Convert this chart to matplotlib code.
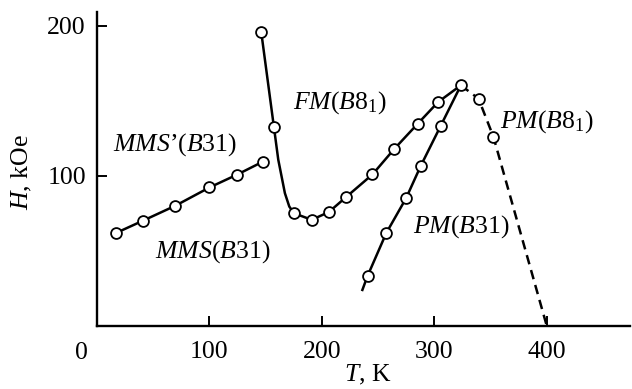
import matplotlib
matplotlib.use("Agg")
import matplotlib.pyplot as plt

plt.rcParams['font.family'] = ['Liberation Serif', 'DejaVu Serif']
plt.rcParams['mathtext.fontset'] = 'custom'
plt.rcParams['mathtext.rm'] = 'Liberation Serif'
plt.rcParams['mathtext.it'] = 'Liberation Serif:italic'
plt.rcParams['mathtext.bf'] = 'Liberation Serif:bold'

# MMS / MMS' (B31) branch
mms_T = [16.6, 40.6, 69.8, 100.0, 124.7, 147.3]
mms_H = [61.8, 70.0, 80.1, 92.2, 100.8, 109.3]

# FM(B8_1) markers
fm_T = [146.0, 157.3, 175.3, 190.9, 206.1, 221.8, 245.0, 264.3, 285.3, 303.4, 323.6]
fm_H = [196.0, 132.6, 75.0, 70.7, 75.8, 86.0, 100.9, 117.8, 134.7, 149.1, 160.2]
# FM curve (bend between 157 K and 175 K)
fm_line_T = [146.0, 157.3, 161.2, 167.1, 171.0, 175.3, 190.9, 206.1, 221.8, 245.0, 264.3, 285.3, 303.4, 323.6]
fm_line_H = [196.0, 132.6, 110.7, 88.4, 79.5, 75.0, 70.7, 75.8, 86.0, 100.9, 117.8, 134.7, 149.1, 160.2]

# PM(B31)
pm31_T = [240.6, 257.2, 274.9, 287.8, 305.5]
pm31_H = [33.3, 61.8, 85.1, 106.4, 133.0]
pm31_line_T = [236.0, 240.6, 257.2, 274.9, 287.8, 305.5, 323.6]
pm31_line_H = [24.0, 33.3, 61.8, 85.1, 106.4, 133.0, 160.2]

# PM(B8_1), dashed
pm81_T = [339.3, 352.6]
pm81_H = [151.3, 125.8]
pm81_line_T = [323.6, 339.3, 352.6, 400.0]
pm81_line_H = [160.2, 151.3, 125.8, 0.0]

fig = plt.figure(figsize=(6.32, 3.89), dpi=100)
ax = fig.add_axes([97/632, 63/389, 533/632, 314/389])

lw = 1.8
mk = dict(marker='o', ms=7.8, mfc='white', mec='black', mew=1.3, ls='none', zorder=3)

ax.plot(mms_T, mms_H, color='black', lw=lw)
ax.plot(fm_line_T, fm_line_H, color='black', lw=lw)
ax.plot(pm31_line_T, pm31_line_H, color='black', lw=lw)
ax.plot(pm81_line_T, pm81_line_H, color='black', lw=lw, dashes=(3.8, 2.4))

ax.plot(mms_T, mms_H, **mk)
ax.plot(fm_T, fm_H, **mk)
ax.plot(pm31_T, pm31_H, **mk)
ax.plot(pm81_T, pm81_H, **mk)

ax.set_xlim(0, 474)
ax.set_ylim(0, 209)
ax.spines['top'].set_visible(False)
ax.spines['right'].set_visible(False)
for s in ['left', 'bottom']:
    ax.spines[s].set_linewidth(1.7)

fs = 18.5
ax.set_xticks([100, 200, 300, 400])
ax.set_yticks([100, 200])
ax.tick_params(axis='both', direction='in', length=7, width=1.4, labelsize=fs)
ax.tick_params(axis='x', pad=11)
ax.tick_params(axis='y', pad=8)
ax.annotate('0', xy=(0, 0), xycoords='data', xytext=(-11, -11.5),
            textcoords='offset points', ha='center', va='top', fontsize=fs)

ax.set_xlabel(r'$\mathit{T}$, K', fontsize=fs, va='center', ha='center')
ax.xaxis.set_label_coords(0.508, -0.157)
ax.set_ylabel(r'$\mathit{H}$, kOe', fontsize=fs, va='center', ha='center')
ax.yaxis.set_label_coords(-0.141, 0.49)

ax.text(14, 120.7, r'$\mathit{MMS’(B}$31)', fontsize=fs, va='center', ha='left')
ax.text(51.6, 49.3, r'$\mathit{MMS(B}$31)', fontsize=fs, va='center', ha='left')
ax.text(174, 148.7, r'$\mathit{FM(B}$8$_1$)', fontsize=fs, va='center', ha='left')
ax.text(281, 66, r'$\mathit{PM(B}$31)', fontsize=fs, va='center', ha='left')
ax.text(358, 136, r'$\mathit{PM(B}$8$_1$)', fontsize=fs, va='center', ha='left')

fig.savefig('out.png', dpi=100)
